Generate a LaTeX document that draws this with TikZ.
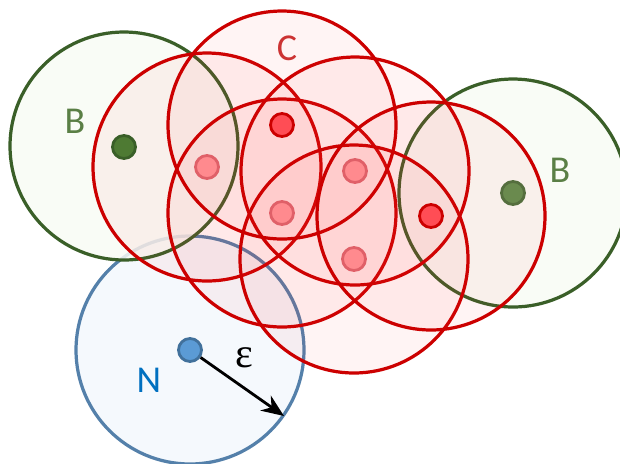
\documentclass[tikz,border=0pt]{standalone}
\usepackage{fontspec}
\setmainfont{Carlito}
\newfontfamily\epsfont{Liberation Serif}
\usetikzlibrary{arrows.meta}
\definecolor{gstroke}{HTML}{3A5F28}
\definecolor{gfill}{HTML}{F8FBF5}
\definecolor{gdot}{HTML}{4E7A33}
\definecolor{gdotl}{HTML}{6A8A4E}
\definecolor{gtext}{HTML}{5A7F45}
\definecolor{rstroke}{HTML}{CC0000}
\definecolor{rfill}{HTML}{FF3030}
\definecolor{rdot}{HTML}{FF4D55}
\definecolor{rdotl}{HTML}{FF8A8E}
\definecolor{rdotls}{HTML}{E06068}
\definecolor{ctext}{HTML}{CC3333}
\definecolor{bstroke}{HTML}{5480AA}
\definecolor{bfill}{HTML}{F5F9FD}
\definecolor{bdot}{HTML}{5B9BD5}
\definecolor{bdots}{HTML}{41719C}
\definecolor{ntext}{HTML}{0070C0}
\tikzset{
  ring/.style={circle, inner sep=0pt, minimum size=228*0.025cm, line width=2.3pt},
  greenring/.style={ring, draw=gstroke, fill=gfill, fill opacity=0.85},
  redring/.style={ring, draw=rstroke, fill=rfill, fill opacity=0.055},
  bluering/.style={ring, draw=bstroke, fill=bfill},
  dot/.style={circle, inner sep=0pt, minimum size=23*0.025cm, line width=2pt},
  reddot/.style={dot, draw=rstroke, fill=rdot},
  lightdot/.style={dot, draw=rdotls, fill=rdotl},
  greendot/.style={dot, draw=gstroke, fill=gdot},
  greendotl/.style={dot, draw=gdotl!80!black, fill=gdotl},
  bluedot/.style={dot, draw=bdots, fill=bdot},
  lab/.style={font=\fontsize{27}{27}\selectfont, inner sep=0pt}
}
\begin{document}
\begin{tikzpicture}[x=0.025cm, y=-0.025cm]
\useasboundingbox (0,0) rectangle (620,463);
\clip (0,0) rectangle (620,463);
% blue
\node[bluering] (nring) at (190,350) {};
% green
\node[greenring] (bring1) at (124,146) {};
\node[greenring] (bring2) at (513,193) {};
% red circles
\node[redring] (r1) at (207,167) {};
\node[redring] (r3) at (282,213) {};
\node[redring] (r4) at (355,171) {};
\node[redring] (r5) at (354,259) {};
\node[redring] (r2) at (282,125) {};
\node[redring] (r6) at (431,216) {};
% dots
\node[greendot] (g1) at (124,147) {};
\node[greendotl] (g2) at (513,193) {};
\node[lightdot] (d1) at (207,167) {};
\node[lightdot] (d3) at (282,213) {};
\node[lightdot] (d4) at (355,171) {};
\node[lightdot] (d5) at (354,259) {};
\node[reddot] (d2) at (282,125) {};
\node[reddot] (d6) at (431,216) {};
\node[bluedot] (n) at (190,350) {};
% arrow
\coordinate (tip) at (284,416);
\draw[line width=2pt, -{Stealth[length=16pt,width=13pt]}] (n) -- (tip);
% labels
\node[lab, text=gtext] (lb1) at (75,121) {B};
\node[lab, text=gtext] (lb2) at (560,170) {B};
\node[lab, text=ctext] (lc) at (287,48) {C};
\node[lab, text=ntext] (ln) at (149,380) {N};
\node[lab, text=black, font=\epsfont\fontsize{30}{30}\selectfont] (le) at (244,358) {ε};
\end{tikzpicture}
\end{document}
